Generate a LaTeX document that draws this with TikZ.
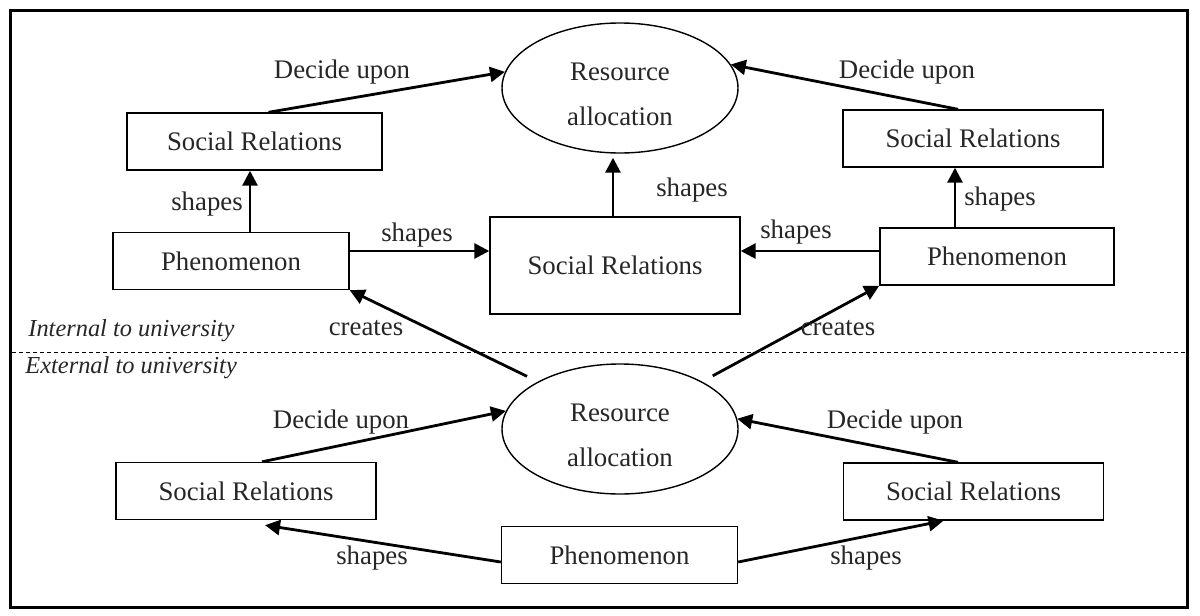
\documentclass[tikz,border=0pt]{standalone}
\usepackage{fontspec}
\setmainfont{Liberation Serif}
\usetikzlibrary{arrows.meta,shapes.geometric}

\tikzset{
    box/.style = {draw, line width=0.7pt, minimum width=130pt, minimum height=28.5pt, inner sep=0pt,
        font=\fontsize{13.4}{16}\selectfont, text=black!85},
    phbox/.style = {box, minimum width=118pt},
    blob/.style = {draw, ellipse, line width=0.7pt, minimum width=118pt, minimum height=65pt, inner sep=0pt},
    blobtext/.style = {inner sep=0pt, align=center, font=\fontsize{13.4}{22.5}\selectfont, text=black!85},
    lbl/.style = {inner sep=0pt, font=\fontsize{13.4}{16}\selectfont, text=black!85},
    side/.style = {lbl, anchor=west, font=\fontsize{12.2}{14}\selectfont\itshape},
    arr/.style = {line width=1.4pt, -{Triangle[length=7.5pt,width=7.5pt]}}
}

\begin{document}
\begin{tikzpicture}[x=0.5pt, y=-0.5pt]
                \useasboundingbox(0,0)rectangle(1200,616);
                \path[draw, line width=1.5pt](10,10)rectangle(1187,607);
                \path[draw, dashed, line width=0.5pt, dash pattern=on 2pt off 1.5pt](12,352)to(1185,352);
                \node[side](inside)at(28,331){Internal to university};
                \node[side](outside)at(25,368){External to university};
                % inside the university
                \node[blob](raTop)at(620,88){};
                \node[blobtext](raTopTxt)at(620,94){Resource\\allocation};
                \node[box, minimum width=127.5pt](srTL)at(254.5,141.5){Social Relations};
                \node[box](srTR)at(973,138.5){Social Relations};
                \node[phbox](phL)at(231,261){Phenomenon};
                \node[box, minimum width=125pt, minimum height=48.5pt](srM)at(615,265.5){Social Relations};
                \node[phbox, minimum width=117pt](phR)at(997,256.5){Phenomenon};
                % outside the university
                \node[blob](raBot)at(620,429){};
                \node[blobtext](raBotTxt)at(620,435){Resource\\allocation};
                \node[box](srBL)at(246,491){Social Relations};
                \node[box](srBR)at(973.5,491.5){Social Relations};
                \node[phbox](phB)at(619.5,555){Phenomenon};
                % arrows
                \path[draw, arr]([xshift=7pt]srTL.north)to(raTop.172);
                \path[draw, arr]([xshift=-7.5pt]srTR.north)to(raTop.12);
                \path[draw, arr]([xshift=9.5pt]phL.north)to([xshift=9.5pt]phL.north |- srTL.south);
                \path[draw, arr]([xshift=-21pt]phR.north)to([xshift=-21pt]phR.north |- srTR.south);
                \path[draw, arr]([yshift=5pt]phL.east)to([yshift=5pt]phL.east -| srM.west);
                \path[draw, arr]([yshift=2.75pt]phR.west)to([yshift=2.75pt]phR.west -| srM.east);
                \path[draw, arr]([xshift=-1pt]srM.north)to([xshift=-1pt,yshift=-2pt]srM.north |- raTop.south);
                \path[draw, arr, shorten <=6pt](raBot.150)to(phL.south east);
                \path[draw, arr, shorten <=6pt](raBot.30)to(phR.south west);
                \path[draw, arr]([xshift=8pt]srBL.north)to(raBot.171);
                \path[draw, arr]([xshift=-7.75pt]srBR.north)to(raBot.5);
                \path[draw, arr]([yshift=-3.5pt]phB.west)to([xshift=9.5pt,yshift=-2.5pt]srBL.south);
                \path[draw, arr]([yshift=-3.5pt]phB.east)to([xshift=-15pt]srBR.south);
                % arrow labels
                \node[lbl](dTL)at(342,72){Decide upon};
                \node[lbl](dTR)at(907,72){Decide upon};
                \node[lbl](sTL)at(207,204){shapes};
                \node[lbl](sTR)at(1000,199){shapes};
                \node[lbl](sL)at(417,235){shapes};
                \node[lbl](sR)at(796,232){shapes};
                \node[lbl](sM)at(692,190){shapes};
                \node[lbl](cL)at(366,328){creates};
                \node[lbl](cR)at(838,328){creates};
                \node[lbl](dBL)at(341,422){Decide upon};
                \node[lbl](dBR)at(895,422){Decide upon};
                \node[lbl](sBL)at(372,558){shapes};
                \node[lbl](sBR)at(866,558){shapes};
            \end{tikzpicture}
\end{document}
